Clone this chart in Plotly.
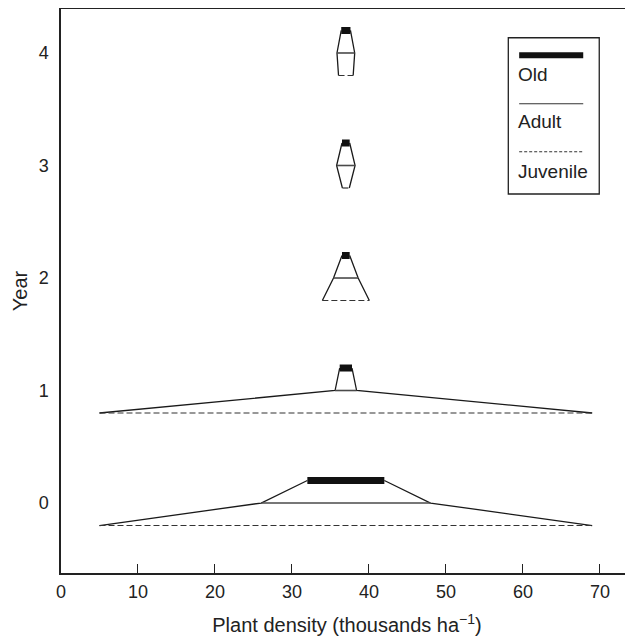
import plotly.graph_objects as go

# ---- data (plant density, thousands ha^-1) ----
years = [0, 1, 2, 3, 4]
center = 37.0
juvenile_width = [64.0, 64.0, 6.1, 0.9, 1.9]
adult_width = [22.0, 2.8, 3.2, 2.4, 2.3]
old_width = [10.0, 1.6, 1.0, 1.0, 1.2]
class_offset = {"Juvenile": -0.2, "Adult": 0.0, "Old": 0.2}
x_ticks = [0, 10, 20, 30, 40, 50, 60, 70]
y_ticks = [0, 1, 2, 3, 4]

FONT = "Liberation Sans, Arial, Helvetica, sans-serif"
fig = go.Figure()

# outlines connecting bar ends
for yr, j, a, o in zip(years, juvenile_width, adult_width, old_width):
    yj = yr + class_offset["Juvenile"]
    ya = yr + class_offset["Adult"]
    yo = yr + class_offset["Old"]
    fig.add_trace(go.Scatter(
        x=[center - j / 2, center - a / 2, center - o / 2, None,
           center + o / 2, center + a / 2, center + j / 2],
        y=[yj, ya, yo, None, yo, ya, yj],
        mode="lines", line=dict(color="#1a1a1a", width=1.3),
        showlegend=False, hoverinfo="skip"))

def bars(widths, cls):
    xs, ys = [], []
    for yr, w in zip(years, widths):
        yy = yr + class_offset[cls]
        xs += [center - w / 2, center + w / 2, None]
        ys += [yy, yy, None]
    return xs, ys

xs, ys = bars(juvenile_width, "Juvenile")
fig.add_trace(go.Scatter(x=xs, y=ys, mode="lines", name="Juvenile",
                         line=dict(color="#333333", width=1.2, dash="6px,3px"),
                         showlegend=False))
xs, ys = bars(adult_width, "Adult")
fig.add_trace(go.Scatter(x=xs, y=ys, mode="lines", name="Adult",
                         line=dict(color="#4a4a4a", width=1.6),
                         showlegend=False))
xs, ys = bars(old_width, "Old")
fig.add_trace(go.Scatter(x=xs, y=ys, mode="lines", name="Old",
                         line=dict(color="#111111", width=7),
                         showlegend=False))

# ---- custom legend box (line sample above label) ----
shapes = [
    dict(type="rect", xref="paper", yref="paper", x0=0.782, x1=0.941, y0=0.672, y1=0.949,
         line=dict(color="#222", width=1.3), fillcolor="white", layer="above"),
    dict(type="line", xref="paper", yref="paper", x0=0.801, x1=0.913, y0=0.918, y1=0.918,
         line=dict(color="#111", width=6)),
    dict(type="line", xref="paper", yref="paper", x0=0.801, x1=0.913, y0=0.832, y1=0.832,
         line=dict(color="#333", width=1.1)),
    dict(type="line", xref="paper", yref="paper", x0=0.801, x1=0.913, y0=0.747, y1=0.747,
         line=dict(color="#333", width=1.1, dash="3px,2px")),
]
annotations = []
for txt, yy in [("Old", 0.884), ("Adult", 0.800), ("Juvenile", 0.712)]:
    annotations.append(dict(text=txt, xref="paper", yref="paper", x=0.796, y=yy,
                            xanchor="left", yanchor="middle", showarrow=False,
                            font=dict(family=FONT, size=19, color="#222")))

fig.update_layout(
    width=625, height=633,
    margin=dict(l=53, r=0, t=1, b=68, autoexpand=False),
    paper_bgcolor="white", plot_bgcolor="white",
    font=dict(family=FONT, size=18, color="#222"),
    shapes=shapes, annotations=annotations,
    showlegend=False,
    xaxis=dict(range=[0, 74.3], tickvals=x_ticks, ticks="inside", ticklen=9,
               tickwidth=1.3, tickcolor="#222", showline=True, linecolor="#222",
               linewidth=1.5, mirror=True, showgrid=False, zeroline=False,
               ticklabelstandoff=2,
               title=dict(text="Plant density (thousands ha<sup>−1</sup>)",
                          standoff=17, font=dict(size=20))),
    yaxis=dict(range=[-0.622, 4.391], tickvals=y_ticks, ticks="", showline=True,
               linecolor="#222", linewidth=1.5, showgrid=False, zeroline=False,
               ticklabelstandoff=7,
               title=dict(text="Year", standoff=6, font=dict(size=20))),
)

fig.write_html("out.html")
